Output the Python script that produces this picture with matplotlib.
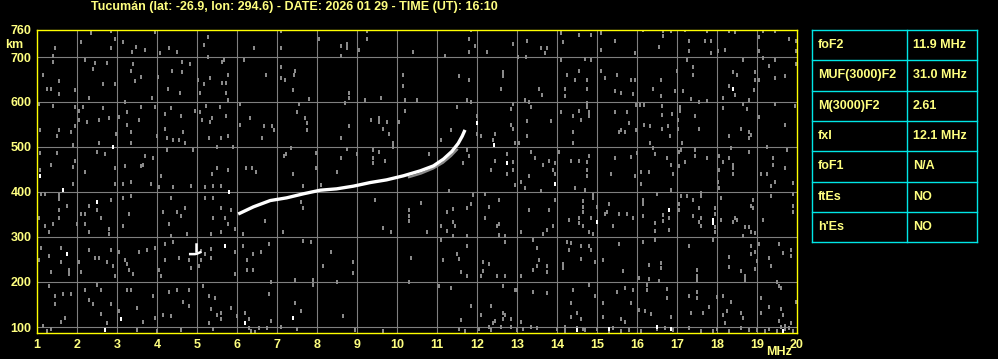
import matplotlib
matplotlib.use("Agg")
import matplotlib.pyplot as plt

W, H, DPI = 998, 359, 100
FONT = "Liberation Sans"
YELLOW = "#ffff00"
TEXT = "#ffff80"
GRID = "#7f7f7f"
NOISE = "#8a8a8a"
CYAN = "#00e6e6"

title = "Tucumán (lat: -26.9, lon: 294.6) - DATE: 2026 01 29 - TIME (UT): 16:10"

freq_ticks = list(range(1, 21))
height_ticks = [100, 200, 300, 400, 500, 600, 700, 760]

# ordinary trace (F2 layer)
o_mhz = [6.03, 6.41, 6.83, 7.24, 7.66, 8.08, 8.49, 8.91, 9.33, 9.74, 10.16,
         10.58, 10.91, 11.16, 11.37, 11.53, 11.63, 11.70]
o_km = [351, 367, 381, 387, 396, 404, 407, 413, 421, 427, 436,
        447, 458, 473, 490, 508, 524, 538]

# weaker extraordinary echo just under it
x_mhz = [10.3, 10.6, 10.9, 11.15, 11.35, 11.5]
x_km = [433, 441, 452, 465, 480, 494]

# small echo near 5 MHz
echo_mhz = [4.83, 4.90, 4.95, 5.00, 5.08, 4.97, 4.97, 4.97]
echo_km = [262, 262, 262, 263, 266, 268, 276, 284]

noise = [
    (2.34, 753), (2.84, 758), (2.09, 733), (2.94, 741), (2.84, 719), (3.14, 734), (3.48, 723),
    (3.38, 712), (3.69, 716), (3.94, 756), (4.08, 708), (4.29, 721), (4.49, 712), (5.28, 744),
    (5.18, 726), (5.28, 701), (6.43, 721), (7.09, 758), (7.09, 721), (1.44, 721), (1.39, 702),
    (1.39, 690), (2.19, 693), (2.44, 687), (2.74, 687), (2.39, 674), (3.39, 684), (3.34, 670),
    (3.59, 656), (3.44, 647), (1.14, 661), (1.54, 647), (1.34, 628), (1.24, 630), (1.54, 617),
    (1.94, 626), (2.64, 639), (2.94, 639), (2.29, 608), (3.87, 608), (4.03, 656), (4.28, 630),
    (4.38, 670), (4.63, 688), (4.63, 666), (4.83, 684), (4.58, 621), (5.03, 648), (5.18, 639),
    (5.33, 653), (5.63, 688), (5.68, 693), (5.78, 661), (5.63, 643), (5.73, 643), (5.08, 621),
    (5.73, 621), (5.78, 604), (6.18, 693), (6.73, 661), (7.09, 678), (7.09, 653), (7.19, 648),
    (1.04, 595), (1.39, 592), (1.94, 590), (2.14, 588), (2.04, 581), (2.64, 586), (3.04, 566),
    (3.24, 577), (3.59, 590), (3.94, 590), (3.19, 599), (4.34, 586), (4.19, 573), (4.59, 568),
    (4.94, 581), (5.23, 592), (5.08, 577), (5.38, 564), (5.13, 559), (5.33, 555), (5.58, 590),
    (5.73, 568), (6.08, 595), (6.33, 564), (6.08, 550), (6.68, 546), (6.88, 546), (6.93, 537),
    (1.08, 537), (1.54, 537), (1.49, 524), (1.84, 533), (1.94, 547), (2.04, 559), (2.24, 555),
    (2.54, 559), (2.79, 564), (3.24, 550), (3.54, 559), (3.34, 533), (2.98, 528), (2.54, 510),
    (3.34, 510), (4.19, 541), (4.24, 519), (4.39, 515), (4.54, 515), (4.64, 533), (4.69, 510),
    (5.29, 519), (5.59, 519), (5.78, 524), (6.63, 519), (3.99, 524), (1.89, 504), (1.08, 486),
    (1.49, 486), (1.34, 461), (1.08, 450), (1.94, 470), (1.89, 455), (2.19, 444), (2.49, 488),
    (2.69, 484), (2.94, 453), (3.19, 457), (3.69, 479), (3.89, 475), (3.64, 461), (3.59, 457),
    (4.09, 435), (4.24, 493), (4.89, 493), (5.49, 501), (5.89, 501), (5.49, 453), (5.78, 448),
    (5.38, 439), (6.23, 453), (6.38, 453), (6.48, 444), (7.23, 484), (7.18, 479),
    (8.04, 739), (8.59, 725), (8.74, 730), (8.74, 721), (9.24, 757), (9.24, 740), (9.04, 716),
    (8.59, 703), (10.39, 712), (11.19, 703), (11.84, 759), (11.79, 739), (11.94, 725),
    (11.79, 712), (12.24, 712), (12.89, 730), (13.24, 735), (13.59, 721), (13.03, 701),
    (13.23, 699), (7.45, 670), (7.43, 661), (7.39, 626), (7.79, 606), (7.54, 595), (7.51, 577),
    (7.69, 564), (7.74, 554), (7.74, 537), (8.79, 621), (8.79, 610), (8.69, 597), (9.19, 604),
    (9.59, 608), (10.14, 661), (10.14, 635), (10.19, 604), (10.49, 604), (10.19, 581),
    (11.54, 657), (11.79, 648), (11.74, 604), (11.84, 599), (11.49, 590), (12.64, 666),
    (12.64, 657), (12.59, 630), (13.54, 630), (13.63, 615), (13.19, 604), (13.29, 599),
    (13.34, 590), (12.89, 595), (12.84, 584), (9.34, 559), (9.54, 564), (9.54, 555), (9.74, 555),
    (10.04, 555), (9.64, 541), (9.79, 528), (8.79, 546), (8.59, 519), (11.34, 537), (11.09, 515),
    (9.89, 510), (11.99, 568), (11.99, 528), (12.09, 524), (12.44, 528), (12.39, 515),
    (12.84, 550), (12.89, 541), (13.24, 557), (13.24, 524), (13.04, 510), (12.94, 510),
    (7.34, 497), (7.98, 486), (7.98, 453), (7.39, 439), (8.49, 444), (8.59, 475), (8.74, 495),
    (8.99, 484), (9.39, 493), (9.54, 488), (9.39, 475), (9.39, 464), (9.69, 470), (9.89, 499),
    (10.79, 484), (11.64, 464), (11.74, 493), (11.79, 479), (12.44, 470), (12.34, 448),
    (12.74, 484), (12.89, 466), (12.89, 448), (12.74, 439), (13.34, 488), (13.44, 475),
    (13.64, 459), (13.29, 435),
    (13.74, 719), (13.69, 710), (14.09, 753), (14.14, 733), (14.54, 748), (14.84, 750),
    (15.09, 753), (15.44, 735), (15.09, 716), (15.94, 708), (16.14, 759), (16.64, 758),
    (16.64, 746), (16.84, 758), (16.54, 723), (17.19, 759), (17.29, 735), (17.69, 735),
    (17.84, 735), (17.74, 757), (17.84, 710), (17.29, 713), (18.03, 713), (18.19, 716),
    (18.29, 758), (18.44, 755), (19.04, 744), (19.14, 758), (19.44, 757), (19.79, 739),
    (19.97, 735), (19.97, 713), (19.04, 713), (14.09, 693), (14.24, 661), (14.44, 648),
    (14.54, 670), (14.74, 648), (14.74, 628), (14.19, 630), (14.19, 613), (14.84, 693),
    (14.69, 695), (15.09, 670), (15.19, 653), (15.49, 661), (15.44, 624), (15.59, 621),
    (15.84, 648), (15.94, 648), (15.89, 617), (16.59, 648), (16.39, 630), (16.59, 613),
    (16.94, 624), (16.99, 670), (17.24, 693), (17.39, 677), (17.39, 661), (17.14, 624),
    (17.34, 606), (18.64, 693), (18.39, 666), (18.49, 661), (18.29, 635), (18.44, 615),
    (18.14, 608), (18.94, 666), (18.94, 650), (18.92, 626), (18.79, 604), (19.04, 648),
    (19.14, 698), (19.29, 679), (19.44, 693), (19.44, 653), (19.69, 657), (19.97, 684),
    (13.84, 557), (14.09, 577), (14.39, 570), (14.54, 581), (14.74, 590), (14.79, 577),
    (14.79, 570), (14.59, 559), (14.39, 533), (14.39, 510), (14.74, 597), (15.44, 577),
    (15.74, 577), (15.79, 553), (15.54, 533), (15.59, 537), (15.69, 533), (15.97, 593),
    (16.07, 594), (16.17, 593), (16.62, 591), (16.62, 571), (16.87, 573), (15.97, 537),
    (16.17, 550), (16.32, 546), (16.62, 541), (16.77, 546), (16.82, 524), (16.32, 508),
    (17.02, 559), (17.07, 581), (17.07, 590), (17.02, 539), (17.12, 510), (17.44, 568),
    (17.54, 541), (17.54, 601), (17.74, 602), (18.14, 586), (18.64, 595), (18.74, 584),
    (18.59, 541), (18.79, 533), (18.84, 526), (18.79, 519), (18.29, 524), (19.04, 566),
    (19.44, 595), (19.69, 548), (19.94, 591), (19.24, 501), (14.04, 488), (13.79, 470),
    (13.94, 464), (13.89, 448), (13.94, 439), (14.34, 468), (14.54, 470), (14.74, 466),
    (14.79, 481), (14.74, 448), (14.74, 435), (15.44, 475), (15.34, 439), (15.84, 477),
    (15.99, 486), (15.94, 435), (16.09, 444), (16.29, 444), (16.39, 497), (16.44, 484),
    (16.74, 475), (16.84, 461), (16.89, 439), (17.04, 488), (17.09, 493), (17.04, 457),
    (17.19, 466), (17.44, 493), (17.44, 479), (17.74, 475), (18.04, 479), (18.04, 448),
    (18.14, 466), (18.34, 497), (18.39, 461), (18.39, 453), (18.39, 439), (18.29, 475),
    (18.79, 488), (19.09, 441), (19.24, 439), (19.39, 475), (19.39, 459), (19.69, 453),
    (19.74, 493),
    (1.54, 393), (1.54, 384), (1.74, 369), (1.54, 360), (1.19, 396), (1.09, 396), (1.04, 342),
    (1.19, 324), (1.39, 329), (1.29, 311), (1.54, 342), (1.99, 329), (2.09, 351), (2.19, 351),
    (2.29, 369), (2.19, 329), (2.29, 311), (2.49, 360), (2.59, 342), (2.79, 318), (2.84, 382),
    (2.94, 418), (3.14, 418), (3.34, 422), (3.14, 387), (3.34, 391), (3.29, 351), (3.14, 324),
    (2.79, 307), (3.84, 418), (4.04, 411), (4.39, 411), (4.34, 387), (4.14, 356), (4.49, 356),
    (4.59, 347), (4.69, 364), (4.29, 329), (4.34, 302), (4.74, 307), (4.84, 413), (5.19, 411),
    (5.39, 413), (5.59, 413), (5.19, 387), (5.39, 387), (5.59, 364), (5.84, 360), (5.39, 342),
    (5.69, 342), (5.78, 329), (5.94, 318), (5.59, 311), (5.34, 307), (6.14, 307), (6.69, 336),
    (7.14, 311), (1.89, 418), (1.09, 276), (1.59, 276), (1.29, 258), (1.59, 244), (1.04, 249),
    (1.34, 222), (1.79, 227), (1.79, 218), (2.04, 244), (2.09, 222), (2.29, 271), (2.44, 253),
    (2.54, 253), (2.74, 244), (2.84, 271), (2.89, 236), (2.94, 213), (3.04, 267), (3.19, 249),
    (3.24, 240), (3.29, 227), (3.39, 218), (3.54, 267), (3.74, 271), (3.94, 276), (4.19, 284),
    (4.19, 249), (4.04, 227), (4.09, 213), (4.54, 253), (4.39, 289), (4.79, 249), (4.84, 231),
    (5.09, 249), (5.04, 236), (5.34, 274), (5.34, 253), (5.94, 267), (6.14, 280), (6.24, 249),
    (6.39, 262), (6.59, 267), (6.79, 284), (6.24, 227), (6.39, 227), (5.94, 218), (5.10, 268),
    (5.20, 262), (1.29, 191), (1.44, 169), (1.64, 173), (1.84, 173), (1.44, 151), (1.69, 120),
    (1.59, 111), (1.14, 102), (2.19, 182), (2.29, 160), (2.39, 151), (2.59, 129), (2.49, 194),
    (2.59, 182), (2.84, 151), (2.74, 109), (3.04, 136), (3.24, 182), (3.34, 182), (3.49, 142),
    (3.64, 111), (3.89, 169), (3.94, 120), (4.14, 127), (4.34, 124), (4.29, 178), (4.49, 182),
    (4.64, 156), (4.79, 147), (4.79, 182), (5.14, 191), (5.29, 169), (5.44, 164), (5.34, 140),
    (5.49, 127), (5.59, 131), (5.59, 118), (5.29, 109), (5.84, 142), (5.99, 124), (6.19, 131),
    (6.29, 118), (6.29, 98), (6.54, 98), (6.74, 98), (6.79, 173), (6.84, 113), (7.09, 100),
    (6.84, 200), (1.24, 92), (1.34, 95), (3.50, 94), (4.00, 92), (4.60, 93), (5.40, 95),
    (6.35, 92), (6.45, 90),
    (7.64, 413), (8.09, 416), (7.59, 378), (7.64, 364), (9.44, 382), (10.59, 376), (10.29, 360),
    (10.29, 347), (10.29, 336), (9.64, 320), (9.84, 311), (10.74, 311), (11.29, 402),
    (11.89, 393), (11.84, 373), (11.74, 364), (11.39, 362), (11.24, 356), (11.39, 333),
    (11.44, 324), (11.24, 313), (11.39, 302), (11.09, 324), (11.74, 302), (12.19, 396),
    (12.29, 367), (12.19, 342), (12.54, 382), (12.54, 329), (12.49, 324), (12.54, 304),
    (12.69, 302), (13.09, 311), (13.29, 360), (12.94, 416), (13.09, 422), (13.19, 409),
    (13.59, 402), (13.64, 307), (7.64, 291), (7.84, 289), (8.34, 267), (8.14, 236), (8.89, 244),
    (8.89, 220), (10.34, 253), (11.09, 293), (11.14, 249), (11.49, 262), (11.54, 251),
    (11.59, 222), (11.74, 213), (11.74, 280), (12.14, 244), (12.29, 240), (12.14, 224),
    (12.09, 213), (12.49, 213), (12.69, 213), (12.69, 289), (13.09, 213), (13.39, 293),
    (13.49, 276), (13.54, 249), (13.49, 236), (13.39, 227), (7.44, 204), (7.89, 204),
    (7.89, 193), (8.49, 200), (10.29, 200), (11.04, 191), (11.34, 187), (7.44, 153), (7.59, 136),
    (8.64, 124), (7.49, 96), (8.94, 93), (9.64, 91), (11.59, 116), (11.84, 147), (12.09, 127),
    (12.34, 147), (12.04, 96), (12.29, 100), (12.34, 93), (12.39, 109), (12.44, 113),
    (12.64, 131), (12.69, 127), (12.64, 118), (12.59, 100), (12.84, 118), (12.84, 100),
    (12.99, 93), (13.14, 96), (13.39, 178), (12.99, 182), (12.64, 191), (12.94, 182),
    (13.34, 100), (13.49, 98), (13.09, 111), (11.54, 96), (11.69, 91),
    (14.44, 409), (14.69, 404), (14.89, 393), (14.89, 387), (16.09, 418), (16.84, 404),
    (16.49, 396), (18.04, 409), (18.02, 422), (19.34, 413), (19.44, 422), (19.89, 420),
    (19.89, 396), (19.34, 391), (13.94, 382), (13.79, 360), (14.64, 380), (14.64, 367),
    (14.64, 356), (14.54, 342), (14.54, 331), (14.64, 324), (14.29, 338), (13.89, 324),
    (13.74, 316), (14.79, 311), (14.89, 307), (14.84, 342), (14.99, 367), (15.29, 373),
    (15.19, 351), (15.24, 356), (15.54, 351), (15.74, 351), (15.39, 324), (15.89, 342),
    (16.14, 382), (16.14, 373), (16.14, 347), (16.44, 331), (16.44, 313), (16.64, 349),
    (16.64, 336), (16.79, 342), (16.79, 316), (17.09, 391), (17.24, 391), (17.59, 398),
    (17.59, 391), (17.39, 382), (17.04, 373), (17.04, 360), (17.39, 347), (17.54, 364),
    (17.59, 342), (17.54, 333), (17.59, 324), (17.94, 364), (17.94, 351), (17.94, 322),
    (17.94, 311), (18.09, 387), (18.09, 338), (18.39, 333), (18.44, 342), (18.49, 338),
    (18.69, 322), (18.79, 322), (18.64, 302), (18.84, 311), (18.94, 309), (18.89, 382),
    (18.84, 369), (18.89, 364), (19.14, 338), (19.89, 369), (19.89, 356), (17.89, 293),
    (14.24, 289), (14.34, 287), (14.59, 280), (14.79, 280), (14.29, 271), (14.84, 271),
    (14.59, 251), (14.94, 244), (15.14, 249), (15.54, 284), (16.14, 289), (16.44, 293),
    (13.74, 236), (13.74, 222), (14.14, 240), (14.14, 231), (15.64, 224), (16.29, 238),
    (16.59, 242), (16.59, 231), (16.04, 209), (16.29, 207), (16.54, 202), (17.29, 280),
    (17.49, 227), (17.49, 213), (17.49, 204), (18.29, 256), (18.29, 233), (18.59, 224),
    (18.69, 213), (18.69, 204), (18.84, 280), (18.84, 262), (18.94, 267), (18.99, 247),
    (18.94, 229), (19.04, 284), (19.29, 253), (19.54, 284), (19.64, 264), (19.84, 271),
    (19.84, 258), (19.34, 236), (19.49, 200), (13.74, 176), (14.39, 182), (14.79, 193),
    (14.94, 169), (14.34, 153), (14.34, 122), (14.49, 131), (14.59, 118), (14.19, 100),
    (14.64, 96), (15.14, 153), (15.14, 122), (15.49, 178), (15.69, 187), (15.89, 182),
    (15.84, 153), (15.59, 118), (15.69, 111), (16.04, 138), (16.19, 136), (16.34, 129),
    (16.24, 182), (16.24, 193), (16.74, 184), (16.74, 164), (16.84, 122), (17.29, 169),
    (17.49, 178), (17.49, 164), (17.34, 131), (17.64, 131), (17.79, 144), (17.99, 167),
    (18.14, 169), (18.14, 127), (18.24, 136), (18.19, 109), (18.34, 156), (18.59, 131),
    (18.64, 120), (19.09, 164), (19.09, 131), (19.29, 144), (19.59, 140), (19.64, 127),
    (19.54, 191), (19.59, 187), (19.54, 113), (19.69, 102), (19.84, 109), (19.97, 156),
    (14.00, 95), (14.20, 92), (14.50, 97), (14.70, 93), (15.00, 96), (15.30, 91), (15.40, 98),
    (15.80, 94), (16.10, 92), (16.50, 96), (16.90, 93), (17.30, 97), (17.60, 92), (18.00, 95),
    (18.30, 91), (18.60, 97), (19.00, 93), (19.30, 96), (19.50, 92), (19.70, 95), (19.90, 91),
    (19.80, 97), (19.60, 99), (19.20, 91), (18.80, 94), (17.90, 91), (16.70, 98), (15.60, 92),
]

bright = [
    (2.89, 501), (1.08, 435), (11.99, 554), (12.43, 504), (12.74, 464), (18.39, 630),
    (1.64, 404), (2.49, 378), (5.79, 400), (1.74, 262), (5.69, 280), (3.09, 118), (6.19, 109),
    (2.69, 94), (7.39, 120), (13.94, 418), (14.99, 333), (16.79, 360), (17.89, 338),
    (17.89, 332), (14.49, 93), (15.29, 96), (16.49, 100), (16.84, 96), (19.64, 91),
]

param_names = ["foF2", "MUF(3000)F2", "M(3000)F2", "fxI", "foF1", "ftEs", "h'Es"]
param_values = ["11.9 MHz", "31.0 MHz", "2.61", "12.1 MHz", "N/A", "NO", "NO"]


def fig_box(x0, y0, x1, y1):
    # pixel box (top-left origin) -> figure fraction rect
    return [x0 / W, 1 - y1 / H, (x1 - x0) / W, (y1 - y0) / H]


fig = plt.figure(figsize=(W / DPI, H / DPI), dpi=DPI, facecolor="black")

# ionogram panel
ax = fig.add_axes(fig_box(37, 30, 797, 333), facecolor="black")
ax.set_xlim(1, 20)
ax.set_ylim(760 - 303 / 0.45, 760)
for f in freq_ticks[1:-1]:
    ax.axvline(f, color=GRID, lw=0.8, zorder=1)
for h in height_ticks[:-1]:
    ax.axhline(h, color=GRID, lw=0.8, zorder=1)

# dots are a bit taller than wide, like the receiver pixels
ax.plot([p[0] for p in noise], [p[1] for p in noise], ls="none",
        marker=[(-0.5, -1), (0.5, -1), (0.5, 1), (-0.5, 1)], ms=2.4, mew=0,
        color=NOISE, zorder=2)
ax.plot([p[0] for p in bright], [p[1] for p in bright], ls="none",
        marker=[(-0.5, -1), (0.5, -1), (0.5, 1), (-0.5, 1)], ms=2.4, mew=0,
        color="white", zorder=3)
ax.plot(x_mhz, x_km, color="#8a8a8a", lw=1.6, zorder=3)
ax.plot(o_mhz, o_km, color="white", lw=2.4, zorder=4, solid_capstyle="butt")
ax.plot(echo_mhz[:5], echo_km[:5], color="white", lw=1.8, zorder=4)
ax.plot(echo_mhz[5:], echo_km[5:], color="white", lw=1.8, zorder=4)

ax.set_xticks(freq_ticks)
ax.set_yticks(height_ticks)
ax.tick_params(length=0, pad=4, colors=TEXT, labelsize=9)
for lab in ax.get_xticklabels() + ax.get_yticklabels():
    lab.set_fontfamily(FONT)
    lab.set_fontweight("bold")
for s in ax.spines.values():
    s.set_color(YELLOW)
    s.set_linewidth(1.0)

# overlay in pixel coordinates for title, unit labels and the parameter table
ov = fig.add_axes([0, 0, 1, 1])
ov.set_xlim(0, W)
ov.set_ylim(H, 0)
ov.axis("off")
ov.patch.set_alpha(0)

txt = dict(color=TEXT, fontfamily=FONT, fontweight="bold", fontsize=9)
ov.text(294, 7, title, ha="center", va="center", **txt)
ov.text(14, 45, "km", ha="center", va="center", **txt)
ov.text(779, 352, "MHz", ha="center", va="center", **txt)

tx0, tx1, tmid = 812, 977, 907
ty0, row_h = 30, 30.3
n = len(param_names)
for i in range(n + 1):
    y = ty0 + i * row_h
    ov.plot([tx0, tx1], [y, y], color=CYAN, lw=1.0)
for x in (tx0, tmid, tx1):
    ov.plot([x, x], [ty0, ty0 + n * row_h], color=CYAN, lw=1.0)
for i, (name, val) in enumerate(zip(param_names, param_values)):
    yc = ty0 + (i + 0.5) * row_h
    ov.text(tx0 + 6, yc, name, ha="left", va="center", **txt)
    ov.text(tmid + 6, yc, val, ha="left", va="center", **txt)

fig.savefig("out.png", dpi=DPI, facecolor="black")
